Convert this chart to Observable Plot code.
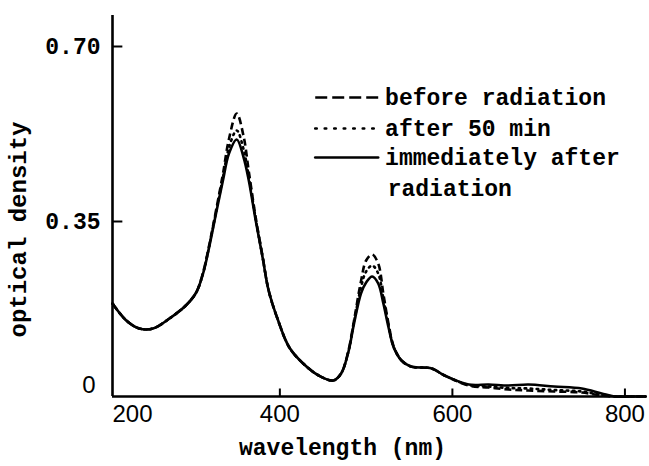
<!DOCTYPE html>
<html>
<head>
<meta charset="utf-8">
<script src="https://cdn.jsdelivr.net/npm/d3@7"></script>
<script src="https://cdn.jsdelivr.net/npm/@observablehq/plot@0.6"></script>
<style>
  html, body { margin: 0; padding: 0; background: #fff; }
  #chart svg { display: block; }
</style>
</head>
<body>
<div id="chart"></div>
<script>
// ---- data ----
const wavelength = [206,222,237,253,272,291,303,311,318,326,334,341,350,358,364,372,380,387,398,411,427,445,462,471,479,486,494,500,507,514,520,526,532,541,552,576,591,619,642,665,688,718,750,773,788,805,824];
const beforeRadiation = [0.186,0.152,0.136,0.136,0.156,0.182,0.208,0.248,0.302,0.372,0.445,0.515,0.566,0.520,0.450,0.358,0.280,0.212,0.152,0.098,0.066,0.042,0.032,0.046,0.088,0.152,0.230,0.272,0.284,0.266,0.205,0.145,0.100,0.072,0.060,0.056,0.042,0.022,0.018,0.014,0.012,0.010,0.008,0.002,0,0,0];
const after50min = [0.186,0.152,0.136,0.136,0.156,0.182,0.208,0.247,0.300,0.369,0.438,0.498,0.532,0.494,0.440,0.355,0.279,0.212,0.152,0.098,0.066,0.042,0.032,0.046,0.087,0.149,0.218,0.250,0.262,0.246,0.196,0.142,0.099,0.072,0.060,0.056,0.042,0.023,0.020,0.017,0.016,0.013,0.010,0.003,0,0,0];
const immediatelyAfter = [0.186,0.152,0.136,0.136,0.156,0.182,0.208,0.246,0.298,0.366,0.432,0.486,0.514,0.478,0.432,0.352,0.278,0.212,0.152,0.098,0.066,0.042,0.032,0.046,0.086,0.146,0.206,0.228,0.240,0.226,0.186,0.138,0.098,0.072,0.060,0.056,0.042,0.024,0.024,0.022,0.024,0.020,0.016,0.006,0,0,0];

const seriesLabels = ["before radiation", "after 50 min", "immediately after", "radiation"];
const xTicks = [200, 400, 600, 800];
const yTicks = [0.70, 0.35];
const yTickLabels = ["0.70", "0.35"];
const zeroLabel = ["0"];
const xLabel = "wavelength (nm)";
const yLabel = "optical density";

// ---- layout ----
const xDomain = [206, 825];
const yDomain = [0, 0.762];
const mono = "'Liberation Mono', 'DejaVu Sans Mono', monospace";
const sans = "'Liberation Sans', Arial, sans-serif";

const rows = wavelength.map((w, i) => ({
  w, before: beforeRadiation[i], after: after50min[i], imm: immediatelyAfter[i]
}));

// legend layout in data units
const legX1 = 441, legX2 = 514, legTextX = 522;
const legY = [0.598, 0.536, 0.478, 0.416];
const dashes = ["7,4", "1.5,4.5", null];

const lineOpts = {x: "w", curve: "catmull-rom", stroke: "black", strokeWidth: 2.6, strokeLinecap: "round", strokeLinejoin: "round"};

const marks = [
  // axes
  Plot.ruleX([xDomain[0]], {y1: yDomain[0], y2: yDomain[1], stroke: "black", strokeWidth: 2.6}),
  Plot.ruleY([0], {x1: xDomain[0], x2: xDomain[1], stroke: "black", strokeWidth: 2.4}),
  Plot.ruleY(yTicks, {x1: xDomain[0], x2: xDomain[0] + 12, stroke: "black", strokeWidth: 2}),
  Plot.ruleX(xTicks.slice(1), {y1: 0, y2: 0.015, stroke: "black", strokeWidth: 2}),
  // y tick labels
  Plot.text(yTicks, {x: xDomain[0], y: d => d, text: (d, i) => yTickLabels[i], textAnchor: "end", dx: -12,
    fontFamily: mono, fontWeight: "bold", fontSize: 23, fill: "black"}),
  Plot.text(zeroLabel, {x: xDomain[0], y: 0, text: d => d, textAnchor: "end", dx: -17, dy: -11,
    fontFamily: sans, fontSize: 24, fill: "black"}),
  // x tick labels
  Plot.text(xTicks.slice(0, 1), {x: xDomain[0], y: 0, text: d => String(d), textAnchor: "start", dy: 18,
    fontFamily: sans, fontSize: 24, fill: "black"}),
  Plot.text(xTicks.slice(1), {x: d => d, y: 0, text: d => String(d), textAnchor: "middle", dy: 18,
    fontFamily: sans, fontSize: 24, fill: "black"}),
  // x axis title
  Plot.text([xLabel], {frameAnchor: "bottom", text: d => d, dx: -37, dy: 58,
    fontFamily: mono, fontWeight: "bold", fontSize: 23, fill: "black"}),
  // curves
  Plot.line(rows, {...lineOpts, y: "before", strokeDasharray: dashes[0], strokeLinecap: "butt"}),
  Plot.line(rows, {...lineOpts, y: "after", strokeDasharray: dashes[1]}),
  Plot.line(rows, {...lineOpts, y: "imm"})
];

// legend
[0, 1, 2].forEach(i => {
  const o = {x1: legX1, x2: legX2, y1: legY[i], y2: legY[i], stroke: "black", strokeWidth: 2.6,
    strokeLinecap: i === 0 ? "butt" : "round"};
  if (dashes[i]) o.strokeDasharray = i === 0 ? "12,5" : "1.5,8";
  marks.push(Plot.link([seriesLabels[i]], o));
});
marks.push(Plot.text(seriesLabels, {
  x: (d, i) => i === 3 ? legTextX + 3 : legTextX, y: (d, i) => legY[i], text: d => d,
  textAnchor: "start", fontFamily: mono, fontWeight: "bold", fontSize: 23, fill: "black"
}));

const chart = Plot.plot({
  width: 649,
  height: 466,
  marginLeft: 112,
  marginRight: 3,
  marginTop: 15,
  marginBottom: 70,
  x: {domain: xDomain, axis: null},
  y: {domain: yDomain, axis: null},
  style: {background: "white", color: "black"},
  marks
});

// y axis title, placed beside the frame, centred on the plotted range
const ys = chart.scale("y");
const yMid = (ys.range[0] + ys.range[1]) / 2 + 24;
d3.select(chart).append("text")
  .attr("transform", `translate(20,${yMid}) rotate(-90)`)
  .attr("text-anchor", "middle")
  .attr("dominant-baseline", "middle")
  .attr("font-family", mono)
  .attr("font-weight", "bold")
  .attr("font-size", 24)
  .attr("fill", "black")
  .text(yLabel);

document.getElementById("chart").appendChild(chart);
</script>
</body>
</html>
